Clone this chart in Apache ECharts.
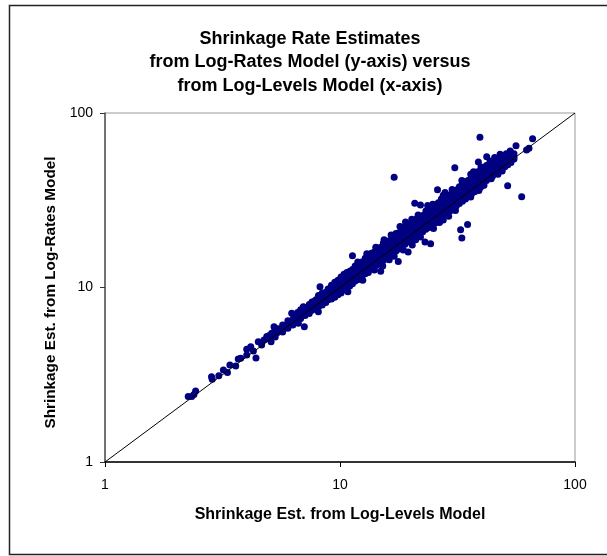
<!DOCTYPE html>
<html><head><meta charset="utf-8">
<style>html,body{margin:0;padding:0;background:#fff}#c{width:607px;height:556px}</style>
<script src="https://cdn.jsdelivr.net/npm/echarts@6/dist/echarts.min.js"></script>
</head><body><div id="c"></div>
<script>
const titleLines = ["Shrinkage Rate Estimates","from Log-Rates Model (y-axis) versus","from Log-Levels Model (x-axis)"];
const xAxisName = "Shrinkage Est. from Log-Levels Model";
const yAxisName = "Shrinkage Est. from Log-Rates Model";
const referenceLine = [[1,1],[100,100]];
const lowEnd = [[2.26,2.37],[2.34,2.37],[2.39,2.44],[2.43,2.55],[2.84,3.08],[2.86,2.98],[3.05,3.12],[3.19,3.37],[3.32,3.26],[3.40,3.60],[3.60,3.55],[3.69,3.89],[3.78,3.93],[4.01,4.10],[4.01,4.42],[4.17,4.58],[4.39,3.94],[4.28,4.33],[4.49,4.89],[4.64,4.68],[4.88,5.23],[5.12,5.46],[5.24,5.96],[5.09,4.89],[5.55,5.71],[5.93,5.96],[6.23,7.11],[6.37,6.87],[7.05,5.96],[6.65,6.23],[6.98,7.76],[7.33,7.43],[7.75,8.30],[8.22,10.1],[8.09,7.27],[4.75,5.0],[4.95,5.1],[5.0,5.3],[5.2,5.3],[5.4,5.5],[5.45,5.8]];
const outliers = [[39.4,72.6],[17.0,42.8],[66,71.2],[56.1,65],[30.8,48.6],[51.7,38.3],[59.3,33.1],[26,36.3],[38.8,52.4],[42.1,56.2],[20.8,30.4],[22,29.7],[32.6,21.4],[34.9,23],[33,19.2],[23,18.2],[24.3,17.8],[20.3,17.5],[19.5,16],[17.7,14.1],[14.9,12.4],[11.3,15.2],[10.8,9.46],[62.2,61.4],[63.7,62.8]];
const upperBumps = [[11.9,14.0],[13,15.6],[14.2,17],[15.4,18.8],[16.5,20],[18,22.4],[19,23.7],[20.2,24.6],[21.5,26],[23.6,29.5],[24.8,30],[27.5,33.8],[28,35],[30,36.5],[33,41],[36,44.5],[37,46],[39.8,49],[43.5,53],[45.5,55.5],[48,58],[51,58.5],[53,60.5]];
const lowerBumps = [[12.5,11],[14,12.6],[15.2,13.3],[16.2,14.4],[17,15.1],[18.6,16.4],[21,18.8],[22,19.5],[25,21.8],[26.5,23.6],[27.5,24.4],[29,25.6],[31,27.6],[36,33],[39,36],[41,38.5],[44,42],[47,44.5],[49,46.5]];
const bandLevels = [5.3,5.7,6.0,6.3,6.6,6.8,7.1,7.4,7.6,7.9,8.1,8.4,8.7,8.9,9.2,9.5,9.8,10.1,10.4,10.7,11,11.3,11.6,12,12.4,12.8,13.2,13.6,14,14.4,14.9,15.3,15.8,16.3,16.8,17.3,17.8,18.3,18.9,19.4,20,20.6,21.2,21.8,22.5,23.2,23.9,24.6,25.4,26.2,27,27.8,28.6,29.5,30.4,31.3,32.2,33.2,34.2,35.2,36.3,37.4,38.5,39.6,40.8,42,43.3,44.6,46,47.4,48.8,50.3,51.8,53.4,55];
const bandRates = [
[5.75,5.45,5.2],[6.1,5.85,5.55],[6.45,6.2,5.85],[6.55,6.1],[7.2,6.85,6.45],[7.45,7.1,6.65],[7.6,7.25,6.9],[8.0,7.6,7.1],[8.25,7.85,7.4],[8.5,8.0,7.6],
[9.0,8.5,8.1,7.75],[9.3,8.85,8.4,7.95],[9.4,9.0,8.6,8.2],[9.8,9.3,8.9,8.5],[10.3,9.8,9.3,8.85,8.6],[10.7,10.1,9.6,9.1,8.8],[11.0,10.5,10,9.5,9.1],[11.5,10.9,10.3,9.75,9.3],[11.9,11.3,10.6,10.05,9.7],[12.2,11.5,10.9,10.3,9.9],
[12.4,11.8,11.2,10.6,10.2],[12.7,12.1,11.5,10.9,10.5],[13.3,12.6,11.9,11.3,10.9],[13.6,12.9,12.3,11.7,11.1],[14.0,13.4,12.7,12.1,11.6],[14.7,13.9,13.2,12.5,12.0],[15.0,14.2,13.5,12.9,12.2],[15.7,14.8,14.0,13.3,12.8],[16.0,15.2,14.4,13.7,13.0],[16.8,15.8,14.9,14.1,13.5],
[17.0,16.2,15.4,14.5,13.9],[18.0,17.0,15.9,15.0,14.3],[18.4,17.3,16.3,15.4,14.7],[18.6,17.7,16.8,15.9,15.2],[19.4,18.3,17.3,16.4,15.6],[20.4,19.2,18.0,17.0,16.2],[20.6,19.5,18.4,17.3,16.6],[21.4,20.1,18.9,17.8,17.2],[22.4,21,19.6,18.4,17.7],[22.8,21.4,20.0,18.9,18.2],
[23.2,21.8,20.6,19.5,18.6],[23.8,22.5,21.2,20.0,19.2],[24.8,23.3,21.8,20.6,19.6],[25.2,23.8,22.4,21.2,20.3],[25.9,24.5,23.1,21.9,20.9],[27.4,25.6,24,22.6,21.6],[28.2,26.3,24.7,23.3,22.1],[28.4,26.8,25.3,23.9,22.8],[29.8,27.9,26.1,24.7,23.4],[30.6,28.8,27,25.5,24.2],
[32.2,29.8,27.9,26.3,25.2],[33.0,30.7,28.6,27,25.8],[33.6,31.4,29.5,27.8,26.7],[34.0,32,30.3,28.7,27.5],[34.5,32.8,31.1,29.6,28.4],[36.2,34,32,30.5,29.4],[37.8,35.4,33.1,31.4,30.3],[39.6,36.8,34.2,32.4,31.2],[40.5,37.6,35.2,33.4,32.2],[41.2,38.5,36.2,34.4,33.3],
[42,39.4,37.2,35.4,34.4],[43.5,40.6,38.4,36.5,35.4],[46,43,39.8,37.6,36.4],[46.5,43.5,40.8,38.7,37.6],[47.5,44.5,42,39.9,38.7],[50,46.5,43.2,41],[51,47.5,44.5,42.3],[52,49,45.8,43.6],[54,50.5,47.2,45],[54,51,48.6,46.4],
[56,52.5,50,47.8],[56,53,51,49.2],[56.5,54,52,50.5],[57,55,53.2,52],[58.5,56,54.5]];

const band = [];
bandLevels.forEach((x,i)=>bandRates[i].forEach(y=>band.push([x,y])));
const points = lowEnd.concat(band, upperBumps, lowerBumps, outliers);

const chart = echarts.init(document.getElementById('c'), null, {renderer:'canvas'});
const font = 'Liberation Sans';
const axisCommon = {
  type:'log', logBase:10, min:1, max:100,
  splitLine:{show:false}, minorTick:{show:false}, minorSplitLine:{show:false},
  nameLocation:'middle'
};
chart.setOption({
  animation:false,
  backgroundColor:'#fff',
  textStyle:{fontFamily:font},
  title:{
    text:titleLines.join('\n'), left:305, top:22, textAlign:'center',
    textStyle:{fontFamily:font, fontSize:18, fontWeight:'bold', color:'#000', lineHeight:23.5}
  },
  graphic:[{type:'rect', silent:true, shape:{x:9.5,y:5.5,width:700,height:549}, style:{fill:'none',stroke:'#222',lineWidth:1.5}}],
  grid:{left:105, top:113, width:470, height:349, show:true, borderColor:'#9a9a9a', borderWidth:1, backgroundColor:'transparent'},
  xAxis:Object.assign({}, axisCommon, {
    name:xAxisName, nameGap:45,
    nameTextStyle:{fontFamily:font, fontSize:16, fontWeight:'bold', color:'#000'},
    axisLine:{show:true, lineStyle:{color:'#000', width:1.5}},
    axisTick:{show:true, length:5, lineStyle:{color:'#000'}},
    axisLabel:{fontFamily:font, fontSize:14, color:'#000', margin:16, showMinLabel:true, showMaxLabel:true}
  }),
  yAxis:Object.assign({}, axisCommon, {
    name:yAxisName, nameGap:46,
    nameTextStyle:{fontFamily:font, fontSize:15.3, fontWeight:'bold', color:'#000', padding:[0,10,0,0]},
    axisLine:{show:true, lineStyle:{color:'#555', width:1.5}},
    axisTick:{show:true, length:5, lineStyle:{color:'#333'}},
    axisLabel:{fontFamily:font, fontSize:14, color:'#000', margin:12, showMinLabel:true, showMaxLabel:true}
  }),
  series:[
    {type:'scatter', data:points, symbol:'circle', symbolSize:7, itemStyle:{color:'#000080', opacity:1}, silent:true, z:2, large:false},
    {type:'line', data:referenceLine, symbol:'none', lineStyle:{color:'#000',width:1}, silent:true, z:3}
  ]
});
</script></body></html>
